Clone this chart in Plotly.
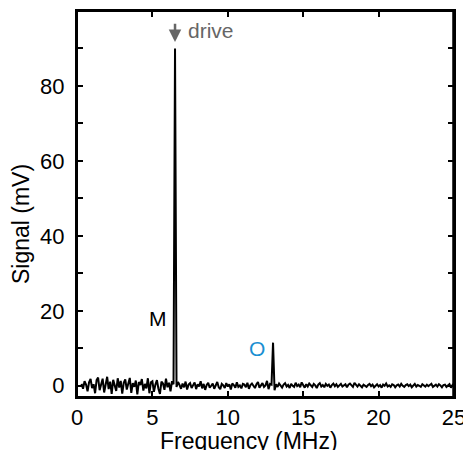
import numpy as np
import plotly.graph_objects as go

seg_low = [0.5, -0.8, 1.2, 0.3, -1.5, 0.9, 1.8, -0.6, 0.4, -2.0,
           1.5, 2.2, -1.2, 0.6, 1.9, -1.8, 0.2, 2.4, -0.9, 1.1,
           -2.2, 1.6, 0.1, -1.4, 2.0, -0.5, 1.3, -2.1, 0.8, 1.7,
           -1.0, 0.4, 2.1, -1.9, 0.7, -0.3, 1.4, -2.3, 1.0, 0.2,
           1.8, -1.3, 0.5, -0.7, 2.0, -2.0, 0.9, 1.2, -1.6, 0.3,
           1.5, -0.8, -2.2, 1.1, 0.6, -1.1, 1.9, -0.4, 0.8, -1.5,
           1.2, 0.4]
peak_M = [90.0]
seg_mid = [-0.3, 1.0, 0.2, -0.8, 0.6, -0.4, 1.1, -1.0, 0.3, 0.7,
           -0.6, 0.1, 0.9, -0.9, 0.4, -0.2, 1.2, -0.7, 0.5, -1.1,
           0.2, 0.8, -0.5, 0.0, 0.6, -0.8, 0.3, 1.0, -0.4, -0.9,
           0.5, 0.1, -0.6, 0.7, -0.2, 0.4, -1.0, 0.6, 0.2, -0.5,
           0.9, -0.3, 0.1, -0.7, 0.5, 0.3, -0.4, 0.8, -0.8, 0.2,
           0.6, -0.1, -0.6, 0.4, 1.0, -0.5, 0.2, 0.7, -0.3, 0.1,
           1.3, -0.9, 0.5, 0.3]
peak_O = [11.5]
seg_high = [-1.2, 0.4, -0.3, 0.6, 0.1, -0.5, 0.3, 0.7, -0.2, 0.2,
            -0.6, 0.5, 0.0, -0.3, 0.8, -0.1, 0.3, -0.4, 0.9, 0.2,
            -0.5, 0.4, -0.2, 0.6, 0.0, -0.3, 0.5, 0.1, -0.6, 0.3,
            0.7, -0.2, 0.2, -0.4, 0.5, 0.0, 0.3, -0.5, 0.2, 0.6,
            -0.1, 0.4, -0.3, 0.2, 0.5, -0.2, 0.1, 0.4, -0.4, 0.3,
            0.6, 0.0, -0.3, 0.8, 0.2, -0.2, 0.4, 0.1, -0.4, 0.3,
            0.0, -0.3, 0.2, 0.5, -0.1, 0.3, -0.4, 0.1, 0.4, -0.2,
            0.2, -0.5, 0.3, 0.0, 0.6, -0.2, 0.1, -0.3, 0.4, 0.2,
            -0.4, 0.1, 0.3, -0.2, 0.5, 0.0, -0.3, 0.2, 0.4, -0.1,
            0.3, -0.4, 0.1, 0.5, -0.2, 0.2, 0.0, -0.3, 0.4, 0.1,
            -0.2, 0.3, -0.1, 0.2, 0.5, -0.3, 0.0, 0.3, -0.2, 0.4,
            0.1, -0.4, 0.2, 0.3, -0.3, 0.1, 0.4, -0.5, 0.2, -0.3]

signal = seg_low + peak_M + seg_mid + peak_O + seg_high
freq_start = 0.3
freq_step = 0.1
freq = np.round(freq_start + freq_step * np.arange(len(signal)), 2)

x_ticks = [0, 5, 10, 15, 20, 25]
y_ticks = [0, 20, 40, 60, 80]

FONT = "Liberation Sans, Arial, sans-serif"

fig = go.Figure()
fig.add_trace(go.Scatter(x=freq, y=signal, mode="lines",
                         line=dict(color="black", width=2),
                         showlegend=False, hoverinfo="skip"))

axis_common = dict(showgrid=False, zeroline=False, showline=True, mirror="ticks",
                   linecolor="black", linewidth=2, ticks="inside", ticklen=6,
                   tickwidth=1.5, tickcolor="black", automargin=False,
                   tickfont=dict(family=FONT, size=22, color="black"))

fig.update_xaxes(range=[0, 25], tickvals=x_ticks, ticklabelstandoff=0,
                 ticklabeloverflow="allow", **axis_common)
fig.update_yaxes(range=[-3, 100], tickvals=y_ticks, ticklabelstandoff=6,
                 minor=dict(dtick=10, ticks="inside", ticklen=6, tickcolor="black", tickwidth=1.5),
                 **axis_common)

# frame around the plotting area (ensures the right edge is drawn)
fig.add_shape(type="rect", xref="paper", yref="paper", x0=0, x1=0.998, y0=0, y1=1,
              line=dict(color="#000000", width=2), fillcolor="rgba(0,0,0,0)", layer="above")

# axis titles
fig.add_annotation(xref="paper", yref="paper", x=0.456, y=0, yanchor="middle",
                   yshift=-44, text="Frequency (MHz)", showarrow=False,
                   font=dict(family=FONT, size=23, color="black"))
fig.add_annotation(xref="paper", yref="paper", x=0, y=0.448, xanchor="center",
                   xshift=-56, text="Signal (mV)", textangle=-90, showarrow=False,
                   font=dict(family=FONT, size=23, color="black"))

fig.add_annotation(x=5.37, y=18.0, text="M", showarrow=False,
                   font=dict(family=FONT, size=21, color="black"))
fig.add_annotation(x=11.94, y=10.0, text="O", showarrow=False,
                   font=dict(family=FONT, size=21, color="#1b8fd2"))
fig.add_annotation(x=7.2, y=94.7, text="drive", showarrow=False, xanchor="left",
                   font=dict(family=FONT, size=21, color="#666666"))
fig.add_annotation(x=6.5, y=91.7, ax=6.5, ay=97.0, axref="x", ayref="y",
                   xref="x", yref="y", text="", showarrow=True,
                   arrowhead=2, arrowsize=1, arrowwidth=2.5, arrowcolor="#666666")

fig.update_layout(width=463, height=450, margin=dict(l=77, r=9, t=11, b=53),
                  plot_bgcolor="white", paper_bgcolor="white",
                  font=dict(family=FONT))

fig.write_html("out.html", config={"displayModeBar": False},
               post_script="document.body.style.margin='0';document.body.style.overflow='hidden';")
